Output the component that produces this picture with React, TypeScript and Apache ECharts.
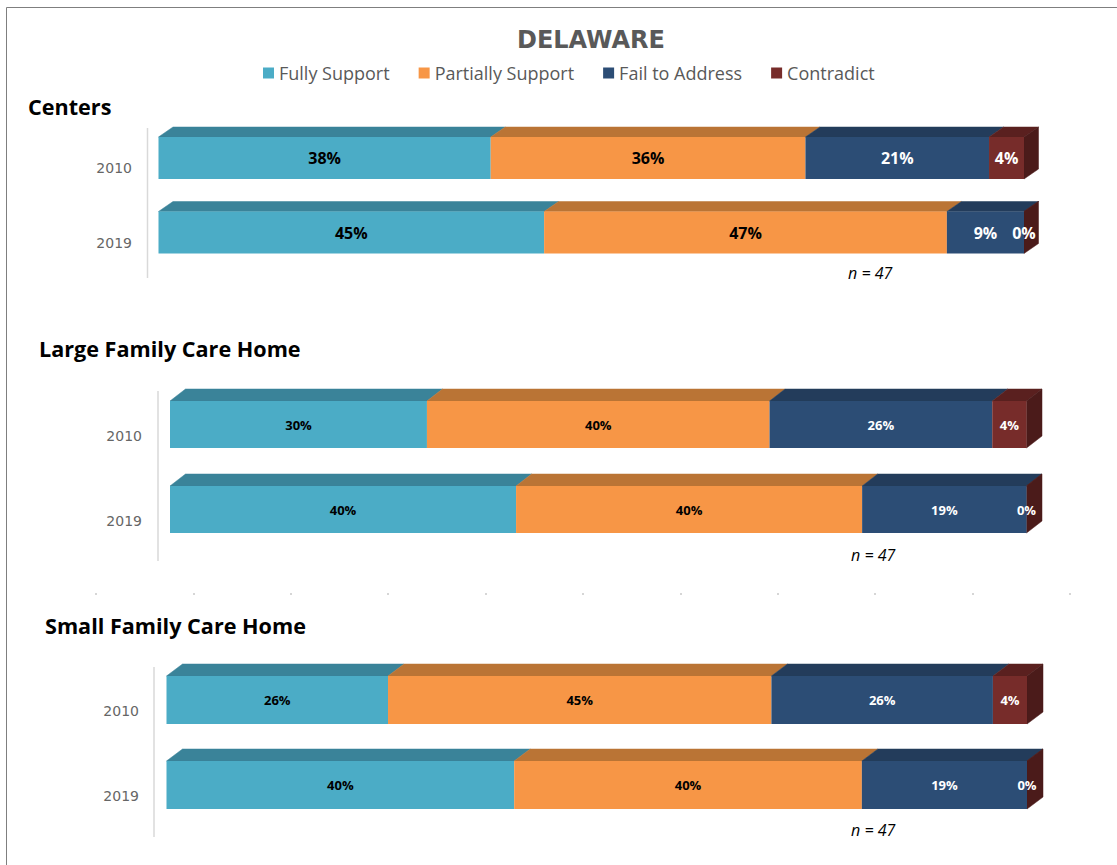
import React, { useEffect, useRef } from "react";
import * as echarts from "echarts";

// ---------- data ----------
const years = ["2010", "2019"];
const seriesNames = ["Fully Support", "Partially Support", "Fail to Address", "Contradict"];
const panelTitles = ["Centers", "Large Family Care Home", "Small Family Care Home"];
const sampleNote = "n = 47";

const centersFully = [38, 45];
const centersPartial = [36, 47];
const centersFail = [21, 9];
const centersContradict = [4, 0];

const largeFully = [30, 40];
const largePartial = [40, 40];
const largeFail = [26, 19];
const largeContradict = [4, 0];

const smallFully = [26, 40];
const smallPartial = [45, 40];
const smallFail = [26, 19];
const smallContradict = [4, 0];

const panels = [
  [centersFully, centersPartial, centersFail, centersContradict],
  [largeFully, largePartial, largeFail, largeContradict],
  [smallFully, smallPartial, smallFail, smallContradict],
];

// ---------- styles ----------
const frontColors = ["#4BACC6", "#F79646", "#2C4D75", "#772C2A"];
const topColors = ["#3A8399", "#BA7435", "#233C5B", "#5A201F"];
const sideColor = "#4B1B1A";
const labelColors = ["#000000", "#000000", "#FFFFFF", "#FFFFFF"];

const grids = [
  { left: 158.5, right: 93, top: 120.75, height: 149 },
  { left: 170, right: 90.5, top: 382, height: 170 },
  { left: 166.5, right: 90, top: 657.5, height: 170 },
];
const barW = [42, 47, 48];
const depthX = [14.5, 15.5, 16];
const depthY = [10, 12, 12];
const labelSize = [16, 13, 13];
const yLabelMargin = [26.5, 28, 27.5];
const yLabelShift = [10, 11, 11];

function normalize(cats: number[][]) {
  return cats.map((arr) =>
    arr.map((v, i) => {
      const total = cats.reduce((s, c) => s + c[i], 0);
      return (v / total) * 100;
    })
  );
}

function buildOption() {
  const series: any[] = [];
  const xAxes: any[] = [];
  const yAxes: any[] = [];

  panels.forEach((raw, c) => {
    const norm = normalize(raw);
    xAxes.push({
      type: "value",
      gridIndex: c,
      min: 0,
      max: 100,
      show: false,
    });
    yAxes.push({
      type: "category",
      gridIndex: c,
      data: years,
      inverse: true,
      axisLine: { show: false },
      axisTick: { show: false },
      splitLine: { show: false },
      axisLabel: {
        margin: yLabelMargin[c],
        color: "#666666",
        fontFamily: "DejaVu Sans",
        fontSize: 14,
        verticalAlign: "top",
        lineHeight: yLabelShift[c] * 2,
      },
    });
    raw.forEach((vals, k) => {
      series.push({
        type: "bar",
        name: seriesNames[k],
        xAxisIndex: c,
        yAxisIndex: c,
        stack: "panel" + c,
        barWidth: barW[c],
        silent: true,
        clip: false,
        data: norm[k],
        itemStyle: { color: frontColors[k] },
        label: {
          show: true,
          position: "inside",
          formatter: (p: any) => vals[p.dataIndex] + "%",
          color: labelColors[k],
          fontFamily: "Open Sans",
          fontWeight: "bold",
          fontSize: labelSize[c],
        },
      });
    });
    // 3D faces
    const faces: number[][] = [];
    years.forEach((_, i) => {
      let acc = 0;
      norm.forEach((arr, k) => {
        faces.push([acc, acc + arr[i], i, k]);
        acc += arr[i];
      });
    });
    const bw = barW[c];
    const dx = depthX[c];
    const dy = depthY[c];
    series.push({
      type: "custom",
      name: "faces" + c,
      xAxisIndex: c,
      yAxisIndex: c,
      silent: true,
      clip: false,
      encode: { x: [0, 1], y: 2 },
      data: faces,
      renderItem: (params: any, api: any) => {
        const s = api.value(0);
        const e = api.value(1);
        const yi = api.value(2);
        const k = api.value(3);
        const a = api.coord([s, yi]);
        const b = api.coord([e, yi]);
        const top = a[1] - bw / 2;
        const children: any[] = [
          {
            type: "polygon",
            shape: {
              points: [
                [a[0], top],
                [a[0] + dx, top - dy],
                [b[0] + dx, top - dy],
                [b[0], top],
              ],
            },
            style: { fill: topColors[k], stroke: topColors[k], lineWidth: 0.5 },
          },
        ];
        if (k === 3) {
          children.push({
            type: "polygon",
            shape: {
              points: [
                [b[0], top],
                [b[0] + dx, top - dy],
                [b[0] + dx, top - dy + bw],
                [b[0], top + bw],
              ],
            },
            style: { fill: sideColor, stroke: sideColor, lineWidth: 0.5 },
          });
        }
        return { type: "group", children };
      },
    });
  });

  // faint tick dots (decorative axis)
  xAxes.push({
    type: "value",
    gridIndex: 3,
    min: 0,
    max: 10,
    interval: 1,
    axisLine: { show: false },
    axisLabel: { show: false },
    splitLine: { show: false },
    axisTick: { show: true, length: 2, lineStyle: { color: "#c8c8c8", width: 1.5 } },
  });
  yAxes.push({ type: "category", gridIndex: 3, data: [""], show: false });

  const textStyleBase = { fontFamily: "Open Sans", fill: "#000000" };
  const graphic: any[] = [
    {
      type: "rect",
      shape: { x: 6.5, y: 7.5, width: 1200, height: 1000 },
      style: { fill: "none", stroke: "#7f7f7f", lineWidth: 1 },
      silent: true,
      z: -10,
    },
    // axis lines
    { type: "line", shape: { x1: 147.5, y1: 128, x2: 147.5, y2: 278 }, style: { stroke: "#d9d9d9", lineWidth: 1.5 } },
    { type: "line", shape: { x1: 158, y1: 391, x2: 158, y2: 561 }, style: { stroke: "#d9d9d9", lineWidth: 1.5 } },
    { type: "line", shape: { x1: 154, y1: 667, x2: 154, y2: 837 }, style: { stroke: "#d9d9d9", lineWidth: 1.5 } },
  ];
  const titlePos = [
    [28, 106.5],
    [39, 348],
    [45, 625],
  ];
  panelTitles.forEach((t, i) => {
    graphic.push({
      type: "text",
      x: titlePos[i][0],
      y: titlePos[i][1],
      style: {
        ...textStyleBase,
        text: t,
        fontWeight: "bold",
        fontSize: 21.6,
        verticalAlign: "middle",
        align: "left",
      },
    });
  });
  const notePos = [
    [848, 273],
    [851, 555],
    [851, 830],
  ];
  notePos.forEach((p) => {
    graphic.push({
      type: "text",
      x: p[0],
      y: p[1],
      style: {
        ...textStyleBase,
        text: sampleNote,
        fontStyle: "italic",
        fontSize: 16,
        verticalAlign: "middle",
        align: "left",
      },
    });
  });

  return {
    animation: false,
    backgroundColor: "#ffffff",
    title: {
      text: "DELAWARE",
      left: 517,
      top: 28,
      padding: 0,
      textStyle: {
        fontFamily: "DejaVu Sans",
        fontWeight: "bold",
        fontSize: 24,
        color: "#595959",
      },
    },
    legend: {
      data: seriesNames,
      left: 263,
      top: 64,
      padding: 0,
      icon: "rect",
      itemWidth: 11,
      itemHeight: 11,
      itemGap: 29,
      textStyle: { fontFamily: "Open Sans", fontSize: 18, color: "#595959" },
      selectedMode: false,
    },
    grid: [...grids, { left: 96, right: 47, top: 592, height: 1 }],
    xAxis: xAxes,
    yAxis: yAxes,
    series,
    graphic,
  };
}

export default function App() {
  const ref = useRef<HTMLDivElement>(null);
  useEffect(() => {
    if (!ref.current) return;
    const chart = echarts.init(ref.current, undefined, { renderer: "svg" });
    chart.setOption(buildOption() as any);
    return () => chart.dispose();
  }, []);
  return (
    <div
      ref={ref}
      style={{ position: "absolute", left: 0, top: 0, width: 1117, height: 865, background: "#fff" }}
    />
  );
}
